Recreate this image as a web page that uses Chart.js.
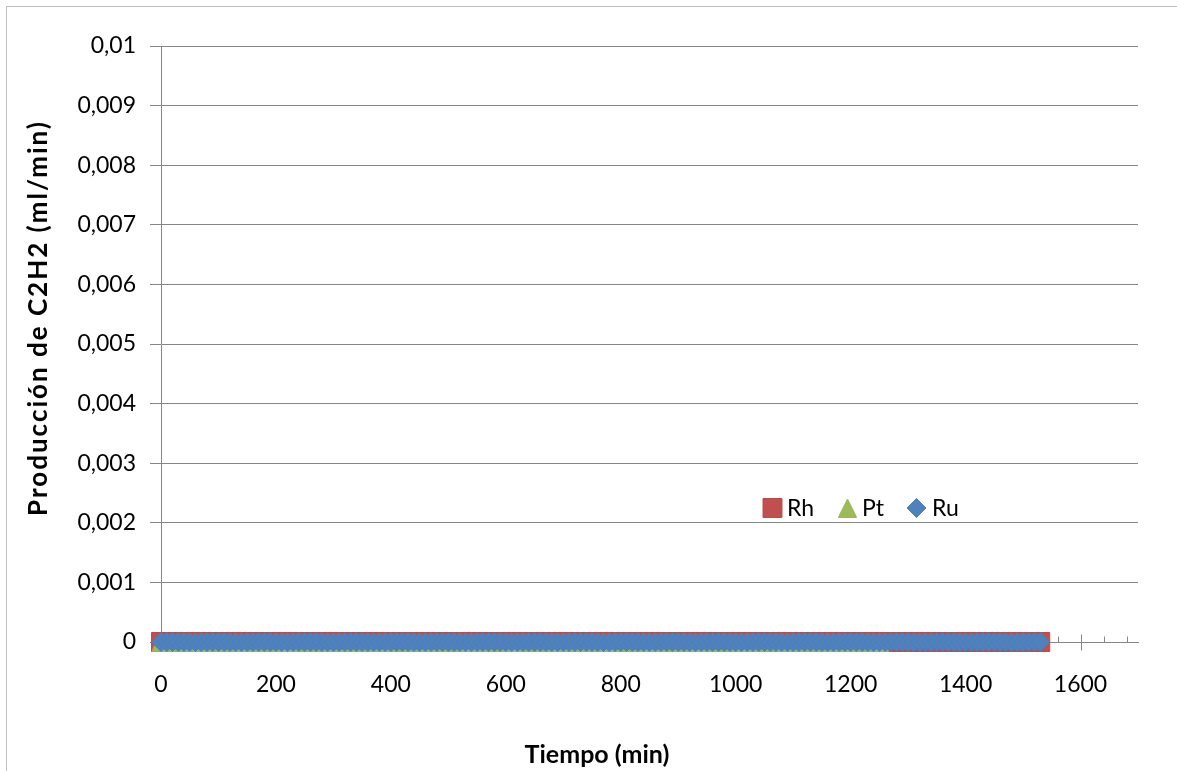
<!DOCTYPE html>
<html>
<head>
<meta charset="utf-8">
<script src="https://cdn.jsdelivr.net/npm/chart.js@4/dist/chart.umd.min.js"></script>
<style>
  html, body { margin: 0; padding: 0; background: #fff; }
  #wrap { position: relative; width: 1177px; height: 771px; }
</style>
</head>
<body>
<div id="wrap"><canvas id="grafico"></canvas></div>
<script>
// --- Datos -------------------------------------------------------------------
// Tiempo de muestreo (min). Rh y Ru llegan hasta 1530 min, Pt hasta 1250 min.
const tiempo = [
  0, 10, 20, 30, 40, 50, 60, 70, 80, 90, 100, 110, 120, 130, 140, 150, 160, 170, 180, 190,
  200, 210, 220, 230, 240, 250, 260, 270, 280, 290, 300, 310, 320, 330, 340, 350, 360, 370, 380, 390,
  400, 410, 420, 430, 440, 450, 460, 470, 480, 490, 500, 510, 520, 530, 540, 550, 560, 570, 580, 590,
  600, 610, 620, 630, 640, 650, 660, 670, 680, 690, 700, 710, 720, 730, 740, 750, 760, 770, 780, 790,
  800, 810, 820, 830, 840, 850, 860, 870, 880, 890, 900, 910, 920, 930, 940, 950, 960, 970, 980, 990,
  1000, 1010, 1020, 1030, 1040, 1050, 1060, 1070, 1080, 1090, 1100, 1110, 1120, 1130, 1140, 1150, 1160, 1170, 1180, 1190,
  1200, 1210, 1220, 1230, 1240, 1250, 1260, 1270, 1280, 1290, 1300, 1310, 1320, 1330, 1340, 1350, 1360, 1370, 1380, 1390,
  1400, 1410, 1420, 1430, 1440, 1450, 1460, 1470, 1480, 1490, 1500, 1510, 1520, 1530,
];
const tiempoPt = tiempo.slice(0, 126); // 0 … 1250 min

// Producción de C2H2 (ml/min): ningún catalizador produce acetileno.
const rh = [
  0, 0, 0, 0, 0, 0, 0, 0, 0, 0, 0, 0, 0, 0, 0, 0, 0, 0, 0, 0,
  0, 0, 0, 0, 0, 0, 0, 0, 0, 0, 0, 0, 0, 0, 0, 0, 0, 0, 0, 0,
  0, 0, 0, 0, 0, 0, 0, 0, 0, 0, 0, 0, 0, 0, 0, 0, 0, 0, 0, 0,
  0, 0, 0, 0, 0, 0, 0, 0, 0, 0, 0, 0, 0, 0, 0, 0, 0, 0, 0, 0,
  0, 0, 0, 0, 0, 0, 0, 0, 0, 0, 0, 0, 0, 0, 0, 0, 0, 0, 0, 0,
  0, 0, 0, 0, 0, 0, 0, 0, 0, 0, 0, 0, 0, 0, 0, 0, 0, 0, 0, 0,
  0, 0, 0, 0, 0, 0, 0, 0, 0, 0, 0, 0, 0, 0, 0, 0, 0, 0, 0, 0,
  0, 0, 0, 0, 0, 0, 0, 0, 0, 0, 0, 0, 0, 0,
];
const pt = [
  0, 0, 0, 0, 0, 0, 0, 0, 0, 0, 0, 0, 0, 0, 0, 0, 0, 0, 0, 0,
  0, 0, 0, 0, 0, 0, 0, 0, 0, 0, 0, 0, 0, 0, 0, 0, 0, 0, 0, 0,
  0, 0, 0, 0, 0, 0, 0, 0, 0, 0, 0, 0, 0, 0, 0, 0, 0, 0, 0, 0,
  0, 0, 0, 0, 0, 0, 0, 0, 0, 0, 0, 0, 0, 0, 0, 0, 0, 0, 0, 0,
  0, 0, 0, 0, 0, 0, 0, 0, 0, 0, 0, 0, 0, 0, 0, 0, 0, 0, 0, 0,
  0, 0, 0, 0, 0, 0, 0, 0, 0, 0, 0, 0, 0, 0, 0, 0, 0, 0, 0, 0,
  0, 0, 0, 0, 0, 0,
];
const ru = [
  0, 0, 0, 0, 0, 0, 0, 0, 0, 0, 0, 0, 0, 0, 0, 0, 0, 0, 0, 0,
  0, 0, 0, 0, 0, 0, 0, 0, 0, 0, 0, 0, 0, 0, 0, 0, 0, 0, 0, 0,
  0, 0, 0, 0, 0, 0, 0, 0, 0, 0, 0, 0, 0, 0, 0, 0, 0, 0, 0, 0,
  0, 0, 0, 0, 0, 0, 0, 0, 0, 0, 0, 0, 0, 0, 0, 0, 0, 0, 0, 0,
  0, 0, 0, 0, 0, 0, 0, 0, 0, 0, 0, 0, 0, 0, 0, 0, 0, 0, 0, 0,
  0, 0, 0, 0, 0, 0, 0, 0, 0, 0, 0, 0, 0, 0, 0, 0, 0, 0, 0, 0,
  0, 0, 0, 0, 0, 0, 0, 0, 0, 0, 0, 0, 0, 0, 0, 0, 0, 0, 0, 0,
  0, 0, 0, 0, 0, 0, 0, 0, 0, 0, 0, 0, 0, 0,
];

const series = ['Rh', 'Pt', 'Ru'];
const tituloX = 'Tiempo (min)';
const tituloY = 'Producción de C2H2 (ml/min)';
const ticksX = [0, 200, 400, 600, 800, 1000, 1200, 1400, 1600];
const ejeX = { min: 0, max: 1700, paso: 200, pasoMenor: 40 };
const ejeY = { min: 0, max: 0.01, paso: 0.001 };

// --- Estilo ------------------------------------------------------------------
const GRIS = '#868686';
const FUENTE = 'Lato, "Open Sans", sans-serif';

// Triángulo al estilo Excel: centrado por su caja, no por su baricentro.
function triangulo(size, fill, stroke) {
  const c = document.createElement('canvas');
  c.width = size; c.height = size;
  const g = c.getContext('2d');
  g.beginPath();
  g.moveTo(size / 2, 0.5);
  g.lineTo(size - 0.5, size - 0.5);
  g.lineTo(0.5, size - 0.5);
  g.closePath();
  g.fillStyle = fill; g.fill();
  g.strokeStyle = stroke; g.lineWidth = 1; g.stroke();
  return c;
}
const triPt = triangulo(19, '#9BBB59', '#98B954');

const puntos = (xs, ys) => xs.map((x, i) => ({ x, y: ys[i] }));

// Formato con coma decimal: 0,001 … 0,01
const fmtY = (v) => {
  const r = Math.round(v * 1000) / 1000;
  return String(r).replace('.', ',');
};

// --- Plugins -----------------------------------------------------------------
// Marco del gráfico (sólo arriba e izquierda quedan dentro de la imagen).
const marco = {
  id: 'marco',
  beforeDraw(chart) {
    const { ctx } = chart;
    ctx.save();
    ctx.strokeStyle = '#BFBFBF';
    ctx.lineWidth = 1;
    ctx.strokeRect(6.5, 6.5, chart.width + 20, chart.height + 20);
    ctx.restore();
  },
};

// Marcas del eje X: mayores cruzando el eje, menores hacia dentro.
const marcasX = {
  id: 'marcasX',
  beforeDatasetsDraw(chart) {
    const { ctx, scales: { x }, chartArea } = chart;
    const yb = Math.round(chartArea.bottom) + 0.5;
    ctx.save();
    ctx.strokeStyle = GRIS;
    ctx.lineWidth = 1;
    ctx.beginPath();
    for (let v = ejeX.min; v <= ejeX.max; v += ejeX.pasoMenor) {
      const px = Math.round(x.getPixelForValue(v)) + 0.5;
      if (v % ejeX.paso === 0) { ctx.moveTo(px, yb - 8); ctx.lineTo(px, yb + 8); }
      else { ctx.moveTo(px, yb - 6); ctx.lineTo(px, yb); }
    }
    ctx.stroke();
    ctx.restore();
  },
};

// Títulos de ejes y leyenda dentro del área de trazado.
const rotulos = {
  id: 'rotulos',
  afterDraw(chart) {
    const { ctx } = chart;
    ctx.save();
    ctx.fillStyle = '#000';
    ctx.font = 'bold 25px ' + FUENTE;
    ctx.textAlign = 'center';
    ctx.textBaseline = 'middle';
    ctx.fillText(tituloX, 597, 755);
    ctx.font = 'bold 26px ' + FUENTE;
    if ('letterSpacing' in ctx) ctx.letterSpacing = '2px';
    ctx.translate(39, 318);
    ctx.rotate(-Math.PI / 2);
    ctx.fillText(tituloY, 0, 0);
    ctx.restore();

    // Leyenda
    const items = [
      { mx: 772.5, tx: 787 },
      { mx: 847.5, tx: 862 },
      { mx: 916.5, tx: 932 },
    ];
    const yl = 508;
    ctx.save();
    ctx.font = '23px ' + FUENTE;
    ctx.textBaseline = 'middle';
    ctx.textAlign = 'left';
    chart.data.datasets.forEach((ds, i) => {
      const it = items[i];
      ctx.fillStyle = ds.backgroundColor;
      ctx.strokeStyle = ds.borderColor;
      ctx.lineWidth = 1;
      Chart.helpers.drawPoint(ctx, {
        pointStyle: ds.pointStyle,
        radius: ds.pointRadius,
        rotation: 0,
        borderWidth: 1,
      }, it.mx, yl);
      ctx.fillStyle = '#000';
      ctx.fillText(ds.label, it.tx, yl + 1);
    });
    ctx.restore();
  },
};

// --- Gráfico -----------------------------------------------------------------
new Chart(document.getElementById('grafico'), {
  type: 'scatter',
  data: {
    datasets: [
      {
        label: series[0], data: puntos(tiempo, rh), order: 3, clip: false,
        pointStyle: 'rect', pointRadius: 13.4, pointHoverRadius: 13.4,
        backgroundColor: '#C0504D', borderColor: '#BE4B48', borderWidth: 1,
      },
      {
        label: series[1], data: puntos(tiempoPt, pt), order: 2, clip: false,
        pointStyle: triPt, pointRadius: 9.5, pointHoverRadius: 9.5,
        backgroundColor: '#9BBB59', borderColor: '#98B954', borderWidth: 1,
      },
      {
        label: series[2], data: puntos(tiempo, ru), order: 1, clip: false,
        pointStyle: 'rectRot', pointRadius: 9.5, pointHoverRadius: 9.5,
        backgroundColor: '#4F81BD', borderColor: '#4A7EBB', borderWidth: 1,
      },
    ],
  },
  options: {
    responsive: true,
    maintainAspectRatio: false,
    animation: false,
    events: [],
    layout: { padding: { top: 46, right: 39, bottom: 0, left: 0 } },
    plugins: { legend: { display: false }, tooltip: { enabled: false } },
    scales: {
      x: {
        type: 'linear',
        min: ejeX.min, max: ejeX.max,
        afterFit: (s) => { s.height = 129; },
        // Sólo las marcas mayores llevan rótulo (0 … 1600); el eje sigue hasta 1700.
        afterBuildTicks: (s) => { s.ticks = ticksX.map((value) => ({ value })); },
        grid: { display: false },
        border: { display: true, color: GRIS, width: 1 },
        ticks: {
          padding: 21, color: '#000', maxRotation: 0, autoSkip: false,
          font: { family: FUENTE, size: 23 },
          callback: (v) => String(v),
        },
      },
      y: {
        min: ejeY.min, max: ejeY.max,
        afterFit: (s) => { s.width = 161; },
        grid: { color: GRIS, lineWidth: 1, drawTicks: true, tickLength: 11, tickColor: GRIS },
        border: { display: true, color: GRIS, width: 1 },
        ticks: {
          stepSize: ejeY.paso, padding: 14, color: '#000',
          font: { family: FUENTE, size: 23 },
          callback: fmtY,
        },
      },
    },
  },
  plugins: [marco, marcasX, rotulos],
});
</script>
</body>
</html>
